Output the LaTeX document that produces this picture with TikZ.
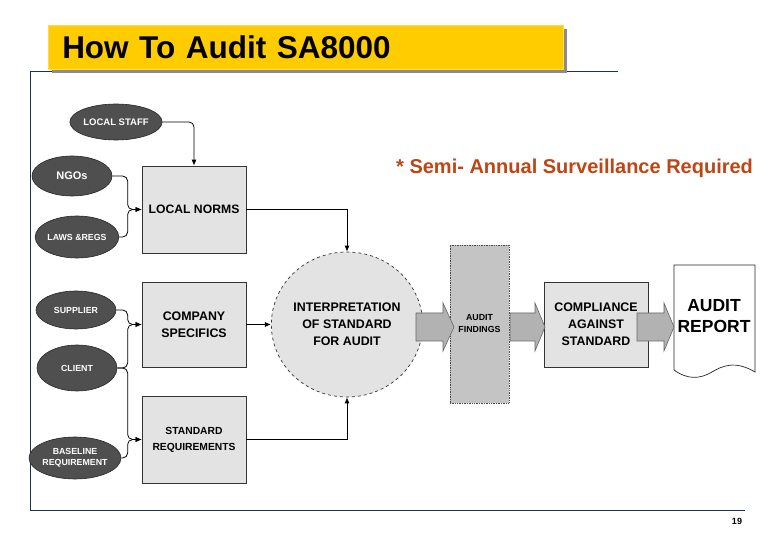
\documentclass[tikz,border=0pt]{standalone}
\usepackage{fontspec}
\setmainfont{Liberation Sans}
\usetikzlibrary{shapes.geometric,arrows.meta,calc}
\definecolor{titleyellow}{HTML}{FFCC00}
\definecolor{shadowgray}{HTML}{8C8C8C}
\definecolor{framecol}{HTML}{1F3050}
\definecolor{ellgray}{HTML}{4F4F4F}
\definecolor{boxgray}{HTML}{E3E3E3}
\definecolor{colgray}{HTML}{C4C4C4}
\definecolor{arrowgray}{HTML}{B2B2B2}
\definecolor{semicol}{HTML}{BE4614}
\newcommand{\fsz}[2]{\fontsize{#1}{#2}\selectfont\bfseries}
\tikzset{
  framestyle/.style={draw=framecol, line width=1},
  src/.style={ellipse, fill=ellgray, draw=black!85, line width=0.6, inner sep=0,
    text=white, align=center, minimum width=80},
  procbox/.style={rectangle, fill=boxgray, draw=black!80, line width=0.7,
    minimum width=104, minimum height=86, inner sep=0, align=center},
  conn/.style={draw=black, line width=0.8, rounded corners=5,
    -{Latex[length=6,width=5]}},
  plainconn/.style={draw=black, line width=0.8, -{Latex[length=6,width=5]}},
  blockarrow/.style={fill=arrowgray, draw=black!60, line width=0.6},
}
\begin{document}
\begin{tikzpicture}[x=1pt,y=-1pt]
\useasboundingbox (0,0) rectangle (780,540);
\fill[white] (0,0) rectangle (780,540);

% frame lines
\draw[framestyle] (30,510) -- (30,72) -- (618,72);
\draw[framestyle] (30,510) -- (745,510);

% title
\fill[shadowgray] (52,29) rectangle (567,73);
\node[fill=titleyellow, draw=titleyellow!70!white, line width=0.5, anchor=north west,
  minimum width=515, minimum height=44, text width=487, inner xsep=14, inner ysep=0,
  align=left, font=\fsz{31.5}{36}] (title) at (48,25) {How To Audit SA8000};

% note
\node[anchor=west, inner sep=0, text=semicol, font=\fsz{20}{24}] (note) at (396,168)
  {* Semi- Annual Surveillance Required};

% source ellipses
\node[src, minimum height=36, font=\fsz{9.5}{11}] (staff) at (116,122) {LOCAL STAFF};
\node[src, minimum height=40, font=\fsz{11}{13}] (ngo) at (72,176) {NGOs};
\node[src, minimum height=42, font=\fsz{8.8}{11}] (laws) at (77,237) {LAWS \&REGS};
\node[src, minimum height=38, font=\fsz{8.8}{11}] (supplier) at (76,310) {SUPPLIER};
\node[src, minimum height=46, font=\fsz{8.8}{11}] (client) at (77,368) {CLIENT};
\node[src, minimum height=42, font=\fsz{8.8}{11}] (baseline) at (75,458)
  {BASELINE\\REQUIREMENT};

% process boxes
\node[procbox, minimum height=87, font=\fsz{12.2}{15}] (norms) at (194,209.5) {LOCAL NORMS};
\node[procbox, minimum height=85, font=\fsz{12.4}{17}] (comp) at (194,324.5)
  {COMPANY\\SPECIFICS};
\node[procbox, minimum height=87, font=\fsz{10.3}{16}] (std) at (194,439.5)
  {STANDARD\\REQUIREMENTS};

% interpretation circle
\node[ellipse, fill=boxgray, draw=black!80, dashed, line width=0.7,
  minimum width=135, minimum height=145, inner sep=0, align=center,
  font=\fsz{12.4}{17}] (interp) at (347,324.5)
  {INTERPRETATION\\OF STANDARD\\FOR AUDIT};

% audit findings column
\node[rectangle, fill=colgray, draw=black!70, densely dotted, line width=0.7,
  minimum width=59, minimum height=158, inner sep=0, align=center,
  font=\fsz{8.8}{12}] (find) at (479.5,324)
  {AUDIT\\FINDINGS};

% compliance
\node[procbox, minimum height=85, font=\fsz{12.4}{17}] (compl) at (596,324.5)
  {COMPLIANCE\\AGAINST\\STANDARD};

% audit report document
\draw[fill=white, draw=black!85, line width=0.7]
  (674,265) -- (755,265) -- (755,372)
  .. controls (735,360) and (722,366) .. (712,372)
  .. controls (700,379) and (688,380) .. (674,370) -- cycle;
\node[inner sep=0, align=center, font=\fsz{17.5}{21}] (report) at (714,316)
  {AUDIT\\REPORT};

% block arrows
\draw[blockarrow] (416,313) -- (443,313) -- (443,303) -- (454,327) -- (443,351)
  -- (443,341) -- (416,341) -- cycle;
\draw[blockarrow] (510,313) -- (535,313) -- (535,303) -- (545,327) -- (535,351)
  -- (535,341) -- (510,341) -- cycle;
\draw[blockarrow] (637,313) -- (664,313) -- (664,303) -- (674,327) -- (664,351)
  -- (664,341) -- (637,341) -- cycle;

% connectors
\coordinate (j1) at ($(norms.west)+(-14,0)$);
\coordinate (j2) at ($(comp.west)+(-14,0)$);
\coordinate (j3) at ($(std.west)+(-14,0)$);
\draw[conn] (staff.east) -| (norms.north);
\draw[conn] (ngo.east) -| (j1) -- (norms.west);
\draw[conn] (laws.east) -| (j1) -- (norms.west);
\draw[conn] (supplier.east) -| (j2) -- (comp.west);
\draw[conn] (client.east) -| (j2) -- (comp.west);
\draw[conn] (client.east) -| (j3) -- (std.west);
\draw[conn] (baseline.east) -| (j3) -- (std.west);
\draw[plainconn] (norms.east) -| (interp.north);
\draw[plainconn] (comp.east) -- (interp.west);
\draw[plainconn] (std.east) -| (interp.south);

% page number
\node[font=\fsz{9}{11}] (page) at (737,521) {19};
\end{tikzpicture}
\end{document}
